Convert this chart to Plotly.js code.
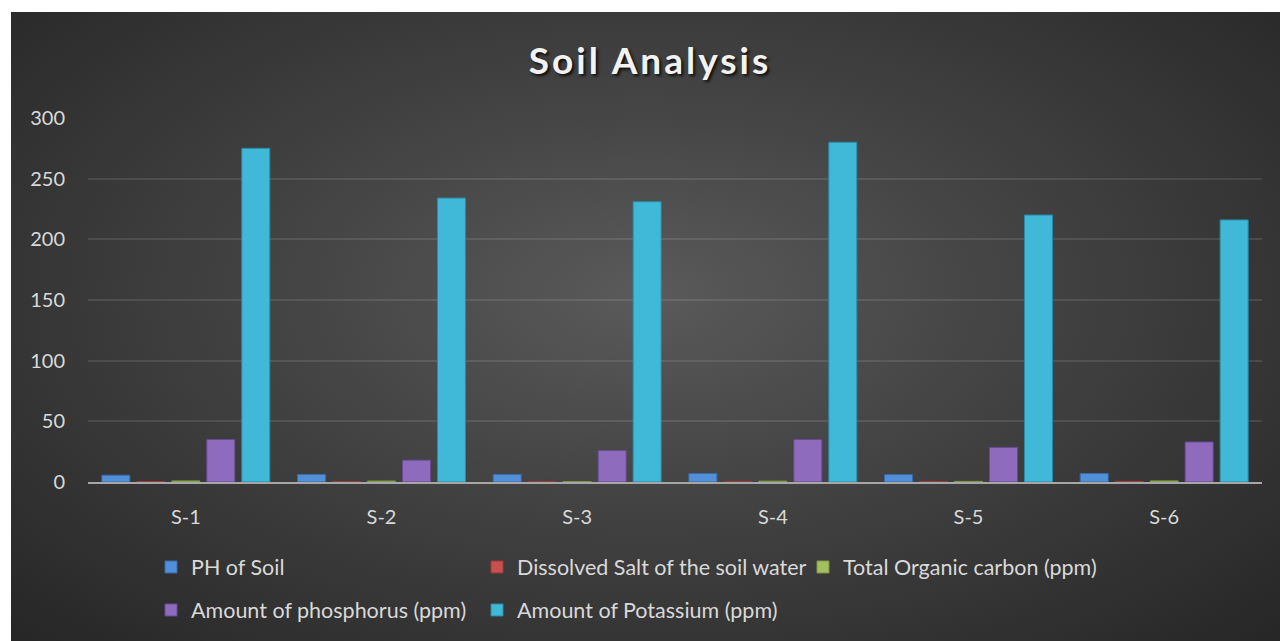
<!DOCTYPE html>
<html>
<head>
<meta charset="utf-8">
<script src="https://cdn.plot.ly/plotly-3.0.1.min.js"></script>
<style>
  html, body { margin: 0; padding: 0; background: #ffffff; }
  #chart {
    position: absolute; left: 11px; top: 12px; width: 1269px; height: 629px;
    background: radial-gradient(ellipse farthest-corner at 50% 45%, #5a5a5a 0%, #444444 40%, #262626 100%);
  }
  #chart .gtitle { letter-spacing: 3px; text-shadow: 2px 2px 3px rgba(0,0,0,0.8); }
</style>
</head>
<body>
<div id="chart"></div>
<script>
const categories = ['S-1', 'S-2', 'S-3', 'S-4', 'S-5', 'S-6'];
const phOfSoil = [5.6, 6.2, 6.3, 7.0, 6.1, 7.0];
const dissolvedSalt = [0.3, 0.2, 0.2, 0.3, 0.4, 0.5];
const organicCarbon = [0.9, 0.8, 0.4, 0.7, 0.5, 0.9];
const phosphorus = [35, 18, 26, 35, 28.5, 33];
const potassium = [275, 234, 231, 280, 220, 216];
const seriesNames = ['PH of Soil', 'Dissolved Salt of the soil water', 'Total Organic carbon (ppm)',
  'Amount of phosphorus (ppm)', 'Amount of Potassium (ppm)'];
const yTicks = [0, 50, 100, 150, 200, 250, 300];

const FONT = 'Lato, Open Sans, sans-serif';
const colors = ['#5190d9', '#c9504d', '#a2c05e', '#8e6bbd', '#40b8d8'];
const lineColors = ['#3a6aa8', '#9a3c3a', '#7d9745', '#684c8f', '#2b8ba8'];
const seriesData = [phOfSoil, dissolvedSalt, organicCarbon, phosphorus, potassium];
const legendIds = ['legend', 'legend', 'legend', 'legend2', 'legend2'];

const traces = seriesData.map((vals, i) => ({
  type: 'bar',
  name: seriesNames[i],
  x: categories,
  y: vals,
  legend: legendIds[i],
  marker: { color: colors[i], line: { color: lineColors[i], width: 1 } },
  hoverinfo: 'x+y+name'
}));

const legendCommon = {
  orientation: 'h',
  xref: 'container', yref: 'container',
  xanchor: 'left', yanchor: 'middle',
  entrywidth: 281, entrywidthmode: 'pixels',
  itemwidth: 30,
  bgcolor: 'rgba(0,0,0,0)',
  font: { family: FONT, size: 21.5, color: '#d9d9d9' },
  traceorder: 'normal'
};

const layout = {
  width: 1269, height: 629,
  paper_bgcolor: 'rgba(0,0,0,0)',
  plot_bgcolor: 'rgba(0,0,0,0)',
  margin: { l: 77, r: 18, t: 106, b: 158.5 },
  title: {
    text: '<b>Soil Analysis</b>',
    font: { family: FONT, size: 37, color: '#f2f2f2' },
    x: 639 / 1269, xref: 'container', xanchor: 'center',
    y: 1 - 49 / 629, yref: 'container', yanchor: 'middle'
  },
  barmode: 'group',
  bargap: 0.106,
  bargroupgap: 0.2,
  xaxis: {
    type: 'category',
    showgrid: false,
    showline: true, linecolor: '#a6a6a6', linewidth: 2,
    ticks: '', ticklabelstandoff: 16,
    tickfont: { family: FONT, size: 20, color: '#d9d9d9' },
    fixedrange: true
  },
  yaxis: {
    range: [0, 300],
    tickvals: yTicks,
    ticktext: yTicks.map(String),
    showgrid: true, gridcolor: 'rgba(255,255,255,0.1)', gridwidth: 1.5,
    zeroline: false, showline: false, ticks: '',
    ticklabelstandoff: 22,
    tickfont: { family: FONT, size: 20, color: '#d9d9d9' },
    fixedrange: true
  },
  legend: Object.assign({}, legendCommon, { x: 140 / 1269, y: 1 - 555 / 629 }),
  legend2: Object.assign({}, legendCommon, { x: 140 / 1269, y: 1 - 598 / 629 }),
  showlegend: true
};

Plotly.newPlot('chart', traces, layout, { displayModeBar: false, staticPlot: false });
</script>
</body>
</html>
